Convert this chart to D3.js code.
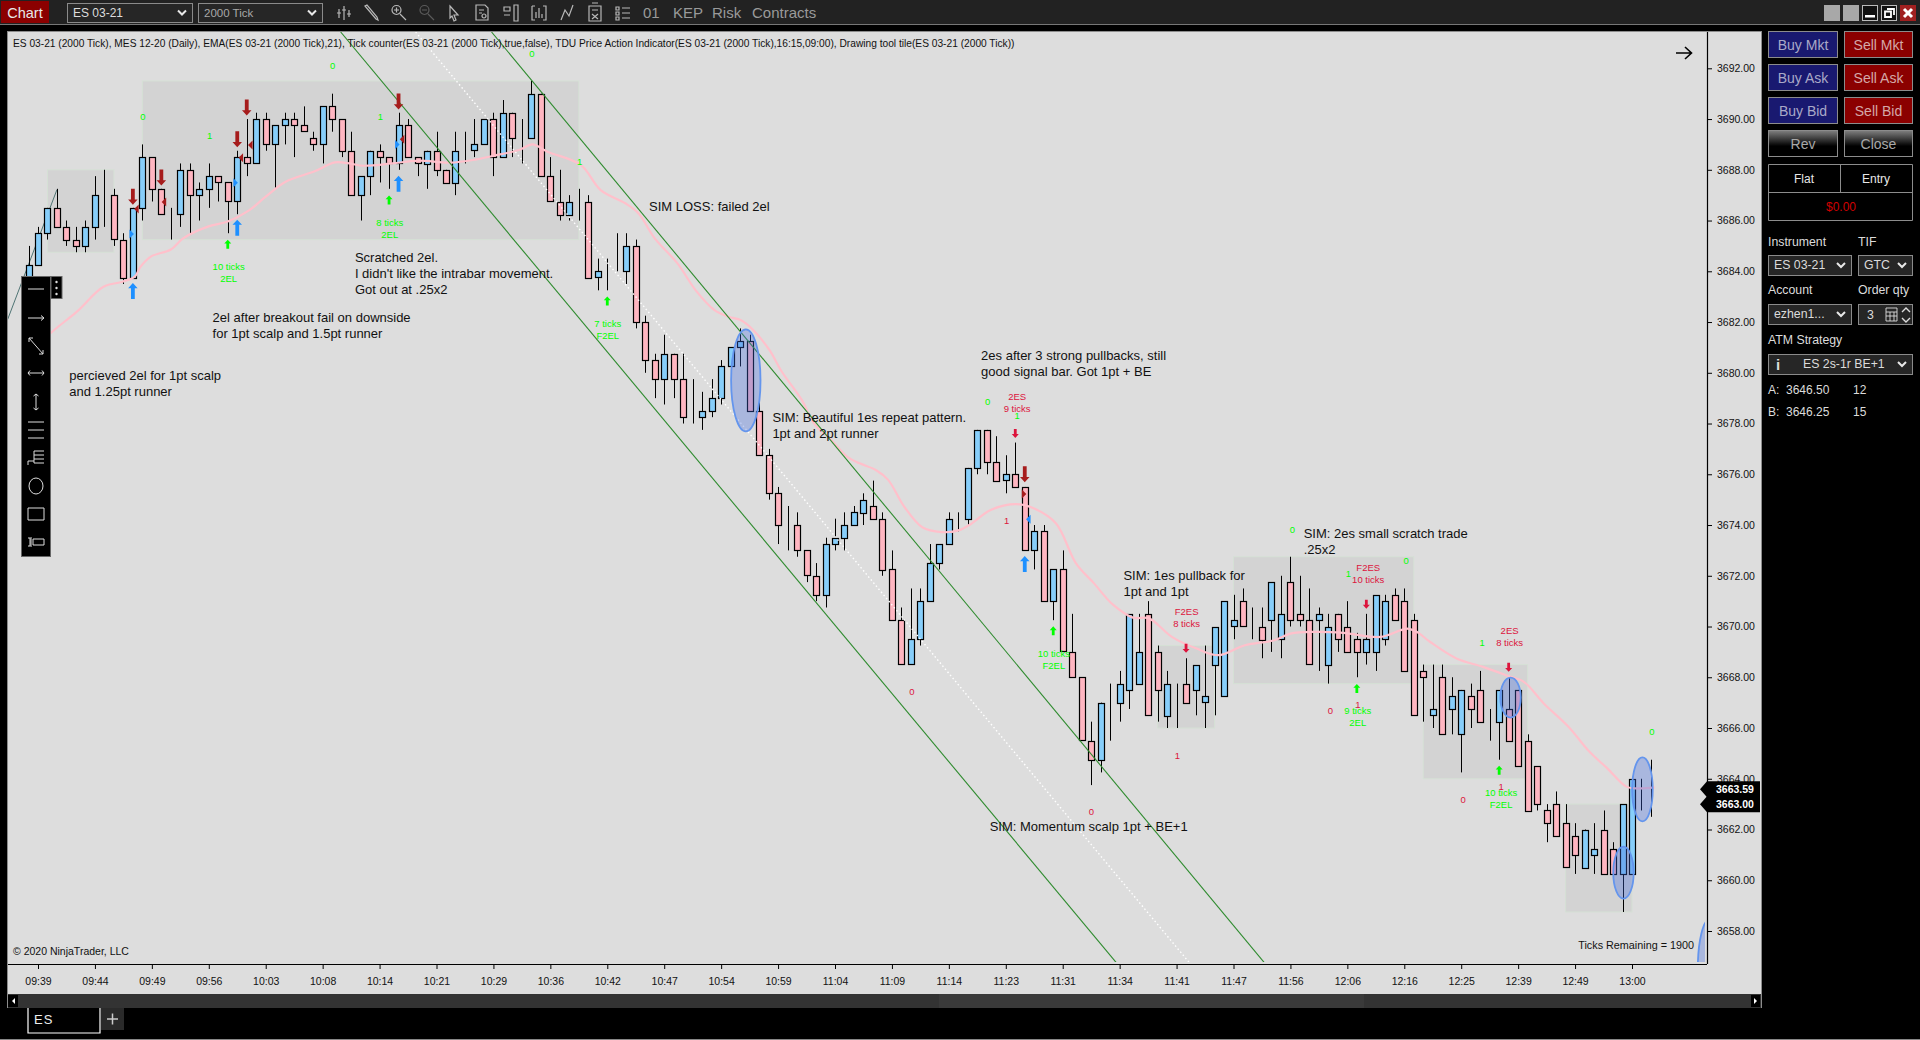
<!DOCTYPE html>
<html>
<head>
<meta charset="utf-8">
<script src="https://cdn.jsdelivr.net/npm/d3@7"></script>
<style>
  html, body { margin: 0; padding: 0; background: #000; overflow: hidden; }
  svg { display: block; }
  text { font-family: "Liberation Sans", Arial, sans-serif; }
</style>
</head>
<body>
<svg id="chart" width="1920" height="1040"></svg>
<script>
// ---------- DATA ----------

const timeLabels = ["09:39","09:44","09:49","09:56","10:03","10:08","10:14","10:21","10:29","10:36",
  "10:42","10:47","10:54","10:59","11:04","11:09","11:14","11:23","11:31","11:34",
  "11:41","11:47","11:56","12:06","12:16","12:25","12:39","12:49","13:00"];
const priceTicks = [3692,3690,3688,3686,3684,3682,3680,3678,3676,3674,3672,3670,3668,3666,3664,3662,3660,3658];

// bars start one bar before the 09:39 tick
const firstBar = -1;
const opens = [3683.75,3684.25,3685.5,3686.5,3685.75,3685.25,3685,3685.75,3687,3687,
  3685.25,3683.75,3686.5,3688.5,3687.25,3686.25,3686.25,3688,3687,3687.25,
  3687.75,3687.5,3686.75,3688.5,3688.25,3690,3689,3689.75,3690,3689.75,
  3689.25,3689,3690.5,3690,3688.75,3687,3687.75,3688.75,3688.5,3688.25,
  3689.75,3688.5,3688.25,3688.75,3688,3687.5,3688.75,3688.75,3689,3690,
  3688.5,3690.25,3689.25,3689.25,3691,3687.75,3686.75,3686.25,3686.75,3686.75,
  3683.75,3684,3684,3684,3685,3682,3680.5,3679.75,3680.75,3679.75,
  3678.25,3678.25,3678.5,3679,3680.25,3681,3681.25,3678.5,3676.75,3675.25,
  3674,3674,3673,3672,3671.25,3673.25,3673.5,3674,3674.5,3674.75,
  3674.25,3672.25,3670.25,3668.5,3669.5,3671,3672.5,3673.25,3674.25,3674.25,
  3676.25,3677.75,3676.5,3675.75,3676,3675.5,3673,3673.75,3671,3672.25,
  3669,3668,3665.5,3664.75,3667,3667,3667.5,3667.75,3670.5,3669,
  3666.5,3667.5,3667.75,3667.5,3667,3668.5,3667.25,3670,3671,3670.25,
  3670,3670.25,3669.5,3671.75,3670.5,3670.25,3670.25,3668.5,3670.5,3670,
  3669.5,3669,3669,3669.5,3671.25,3671,3670.25,3668.25,3666.5,3668,
  3666.75,3665.75,3667.25,3667.5,3666.75,3666.25,3666.75,3667.5,3665.5,3664.5,
  3662.75,3663,3662.25,3661.75,3660.5,3661,3662,3661.25,3660.25,3660.25,
  3663,3664];
const highs = [3685,3685.75,3686.5,3687.25,3686,3685.75,3686,3687.75,3688,3687.25,
  3685.5,3686.5,3689,3688.5,3687.25,3686.5,3688.25,3688.25,3687.5,3688.25,
  3687.75,3687.5,3688.75,3690,3690.25,3690.25,3689.75,3690.25,3690.25,3690.5,
  3689.5,3690.5,3691,3690,3689.5,3687.75,3688.75,3689,3688.5,3690.25,
  3690,3688.5,3688.75,3689.5,3688,3689.5,3689.5,3690,3690,3690.25,
  3690.75,3690.25,3690,3691.5,3691,3688.5,3688,3687,3687.25,3687,
  3684.5,3684.5,3685.5,3685.5,3685.25,3682.25,3680.75,3681.5,3680.75,3680.75,
  3679.75,3679.25,3679.75,3680.5,3681,3681.75,3681.5,3679,3677,3675.5,
  3674.75,3674.5,3673,3672.5,3673.5,3674.25,3674.5,3674.75,3675.25,3675.75,
  3674.5,3673,3670.75,3671.5,3671.5,3673.25,3673.25,3674.5,3674.5,3676.25,
  3677.75,3677.75,3677.5,3676.75,3677.25,3675.5,3674,3674,3672.25,3673,
  3670.5,3668,3666.25,3667,3667.75,3668.25,3668,3670.5,3671,3669.25,
  3668.25,3667.75,3668.75,3668.25,3669.25,3668.75,3670,3671.25,3671.5,3670.75,
  3670.75,3670.25,3672,3672.75,3672,3671.5,3670.75,3670.5,3670.5,3671,
  3669.75,3670.5,3670.5,3671.25,3671.5,3671.5,3670.5,3668.5,3668.5,3668.5,
  3668,3667.5,3667.75,3668.25,3666.75,3666.75,3668,3667.5,3665.75,3664.5,
  3663,3663.5,3663,3662.25,3662,3662.25,3662.75,3661.5,3660.25,3663,
  3664,3664.75];
const lows = [3683.5,3684.25,3685.25,3685.75,3685,3684.75,3684.75,3685.25,3685.75,3685,
  3683.5,3683.75,3686,3686.75,3686.25,3685.25,3685.75,3685.5,3686,3686.5,
  3686.75,3685.5,3686.25,3687.75,3688.25,3688.75,3687.25,3689,3688.5,3689.5,
  3688.75,3688.25,3689.5,3688.5,3687,3686,3687,3687.5,3687.25,3688,
  3688.5,3687.75,3687.25,3687.75,3687.5,3687,3688.25,3688.5,3689,3687.75,
  3688.5,3688.5,3688.25,3689.25,3687.75,3686.75,3686,3686,3686,3683.75,
  3683.25,3683.25,3684,3683.5,3681.75,3680,3679,3678.75,3679,3678,
  3678,3677.75,3678.25,3678.75,3680.25,3680.25,3678.5,3676.75,3675,3673.25,
  3673,3672.75,3671.75,3671,3670.75,3673,3673,3674,3674,3674.25,
  3672,3670.25,3668.5,3668.5,3669.25,3671,3672.25,3673.25,3673.75,3674,
  3676,3676,3675.75,3675.25,3675.5,3673,3672.25,3671,3670.25,3669,
  3668,3665.5,3663.75,3664.25,3665.5,3666.25,3666.75,3667.75,3669,3666.25,
  3666,3666,3667.25,3666.5,3666,3666.5,3667.25,3669.5,3670,3669.5,
  3668.75,3669,3668.75,3670,3670,3669.25,3668.25,3667.75,3669,3669,
  3668,3668.5,3668.25,3669.25,3670.5,3669.5,3668.25,3666.25,3666,3666.75,
  3665.75,3664.25,3666,3666.75,3665.5,3664.75,3666.5,3665,3664,3662.75,
  3661.5,3662.25,3661.5,3660.25,3660.5,3660.25,3661,3660.25,3658.75,3660.25,
  3662.75,3662.5];
const closes = [3684.25,3685.5,3686.5,3685.75,3685.25,3685,3685.75,3687,3687,3685.25,
  3683.75,3686.5,3688.5,3687.25,3686.25,3686.25,3688,3687,3687.25,3687.75,
  3687.5,3686.75,3688.5,3688.25,3690,3689,3689.75,3690,3689.75,3689.5,
  3689,3690.5,3690,3688.75,3687,3687.75,3688.75,3688.5,3688.25,3689.75,
  3688.5,3688.25,3688.75,3688,3687.5,3688.75,3688.75,3689,3690,3688.5,
  3690.25,3689.25,3689.25,3691,3687.75,3686.75,3686.25,3686.75,3686.75,3683.75,
  3684,3684,3684,3685,3682,3680.5,3679.75,3680.75,3679.75,3678.25,
  3678.25,3678.5,3679,3680.25,3681,3681.25,3678.5,3676.75,3675.25,3674,
  3674,3673,3672,3671.25,3673.25,3673.5,3674,3674.5,3675,3674.25,
  3672.25,3670.25,3668.5,3669.5,3671,3672.5,3673.25,3674.25,3674.25,3676.25,
  3677.75,3676.5,3675.75,3676,3675.5,3673,3673.75,3671,3672.25,3669,
  3668,3665.5,3664.75,3667,3667,3667.75,3670.5,3669,3666.5,3667.5,
  3667.75,3667.5,3667,3668.5,3667.25,3670,3671,3670.25,3670,3670.25,
  3669.5,3671.75,3670.5,3670.25,3670.25,3668.5,3670.5,3670,3669.5,3669,
  3669,3669.5,3671.25,3671,3670.25,3668.25,3666.5,3668,3666.75,3665.75,
  3667.25,3667.5,3666.75,3666.25,3666.75,3667.5,3665.5,3664.5,3662.75,3663,
  3662.25,3661.75,3660.5,3661,3662,3661.25,3660.25,3660.25,3663,3664,
  3663];

// EMA(21)
const emaBars = [0,1.3,4.1,6.9,8.9,10.2,10.8,11.9,14,15.3,17.9,20,22.2,24,26.1,29.1,31.3,32.8,34.3,37.3,
  40.1,43.4,46.2,48.1,50.7,52.1,53.7,57.2,59.3,61.9,63.3,65,67.4,69.3,71.3,72.8,74.1,75.4,77.1,78.4,
  80.5,81.8,83.6,85.3,86.6,88.3,89.6,91.3,93.2,95.2,97.1,98.4,100.4,103.1,105,107.3,109.4,111.3,113.3,115.4,
  117.1,119.5,122.1,124.4,127.2,130.3,132,134.6,137.6,141.5,144.3,145.3,146.7,149.5,152.3,154.9,156.6,158.7,161.3,163.5,
  165.4,167.4,168.6,170.4];
const emaValues = [3681,3681.55,3682.41,3683.39,3683.59,3683.79,3684.18,3684.58,3684.86,3685.3,3685.76,3685.96,3686.39,3686.94,3687.53,3687.93,3688.29,3688.25,3688.16,3688.25,
  3688.36,3688.28,3688.41,3688.56,3688.78,3689,3688.71,3688.19,3687.2,3686.68,3686.28,3685.3,3684.31,3683.26,3682.47,3682.21,3682.07,3681.68,3680.89,3680.04,
  3678.93,3678,3677.35,3676.69,3676.43,3676.17,3675.78,3674.72,3673.91,3673.72,3673.8,3674.06,3674.59,3674.82,3674.65,3674.06,3672.49,3671.7,3670.86,3670.35,
  3670.32,3669.59,3669.13,3668.87,3669.26,3669.46,3669.72,3669.79,3669.75,3669.59,3669.92,3669.79,3669.4,3668.74,3668.41,3668.06,3667.82,3666.97,3666.05,3665.07,
  3664.41,3663.69,3663.62,3663.66];

// shaded range boxes: first bar, last bar, top price, bottom price
const boxStart = [1,11,118,126,146,161];
const boxEnd = [8,57,124,145,157,168];
const boxTop = [3688,3691.5,3669.25,3672.75,3668.5,3663];
const boxBottom = [3684.75,3685.25,3666,3667.75,3664,3658.75];

// channel lines (bar and price of both ends)
const channelStart = [31.9,47.8];
const channelEnd = [113.7,129.3];
const channelMidStart = 39.8;
const channelMidEnd = 121.4;
const channelTopPrice = 3693.43;
const channelBottomPrice = 3656.73;
const trendBars = [-3.2,2];
const trendPrices = [3682.1,3687.22];

// drawn ellipses
const ellipseBars = [74.6,155.2,167.1,169.1,176.2];
const ellipsePrices = [3679.7,3667.2,3660.3,3663.58,3656.5];

// signal markers
const bigDownBars = [10,13,21,22,38,104];
const bigDownPrices = [3686.94,3687.7,3689.2,3690.46,3690.69,3676];
const bigUpBars = [10,21,38,104];
const bigUpPrices = [3683.22,3685.72,3687.45,3672.46];
const smallUpBars = [20,37,60,107,139,154];
const smallUpPrices = [3685.07,3686.81,3682.83,3669.83,3667.56,3664.34];
const smallDownBars = [103,121,140,155];
const smallDownPrices = [3677.61,3669.14,3670.88,3668.39];
const redLeftBars = [10.4,13.3,21.4,22.4,38.4];
const redLeftPrices = [3686.45,3686.73,3688.47,3688.98,3689.2];
const redRightBars = [103.9];
const redRightPrices = [3675.22];
const blueRightBars = [9.85,20.8,37.85];
const blueRightPrices = [3685.47,3687.49,3689];
const blueLeftBars = [104.4];
const blueLeftPrices = [3674.23];

// tick counter labels
const greenLabels = ["0","1","0","1","0","1","10 ticks|2EL","8 ticks|2EL","7 ticks|F2EL","10 ticks|F2EL","9 ticks|2EL","10 ticks|F2EL","0","1","0","1","0","1","0"];
const greenBars = [11.05,18.1,31.06,36.1,52.05,57.1,20.1,37.07,60.05,107.07,139.1,154.2,100.1,103.2,132.2,138.1,144.2,152.2,170.1];
const greenPrices = [3690.11,3689.35,3692.1,3690.1,3692.6,3688.32,3684.18,3685.92,3681.95,3668.93,3666.68,3663.45,3678.86,3678.33,3673.84,3672.07,3672.59,3669.36,3665.86];
const redLabels = ["2ES|9 ticks","1","0","0","F2ES|8 ticks","1","F2ES|10 ticks","0","1","2ES|8 ticks","1","0"];
const redBars = [103.2,102.1,92.1,111.03,121.06,120.1,140.2,136.2,139.1,155.1,154.2,150.2];
const redPrices = [3679.06,3674.17,3667.43,3662.7,3670.58,3664.93,3672.31,3666.68,3666.93,3669.83,3663.68,3663.17];

// notes typed on the chart
const notes = ["SIM LOSS: failed 2el","2el after breakout fail on downside|for 1pt scalp and 1.5pt runner",
  "percieved 2el for 1pt scalp|and 1.25pt runner","Scratched 2el.|I didn't like the intrabar movement.|Got out at .25x2",
  "SIM: Beautiful 1es repeat pattern.|1pt and 2pt runner","2es after 3 strong pullbacks, still|good signal bar. Got 1pt + BE",
  "SIM: Momentum scalp 1pt + BE+1","SIM: 1es pullback for|1pt and 1pt","SIM: 2es small scratch trade|.25x2"];
const noteBars = [64.4,18.4,3.3,33.4,77.4,99.4,100.3,114.4,133.4];
const notePrices = [3686.57,3682.16,3679.91,3684.56,3678.22,3680.7,3662.13,3672.03,3673.68];

const headerText = "ES 03-21 (2000 Tick), MES 12-20 (Daily), EMA(ES 03-21 (2000 Tick),21), Tick counter(ES 03-21 (2000 Tick),true,false), TDU Price Action Indicator(ES 03-21 (2000 Tick),16:15,09:00), Drawing tool tile(ES 03-21 (2000 Tick))";
const lastPrices = [3663.59,3663];

// ---------- SCALES ----------

const plot = { left: 8, right: 1707, top: 32, bottom: 964 };
const x = d3.scaleLinear().domain([0, 168]).range([38, 1632]);
const y = d3.scaleLinear().domain([3692, 3658]).range([68.3, 931]);

const svg = d3.select("#chart");
const bars = opens.map((o, i) => ({ bar: firstBar + i, o, h: highs[i], l: lows[i], c: closes[i] }));
const zip = (xs, ys) => xs.map((b, i) => ({ x: x(b), y: y(ys[i]) }));

// ---------- WINDOW FRAME ----------

svg.append("rect").attr("width", 1920).attr("height", 1040).attr("fill", "#000");
svg.append("rect").attr("width", 1920).attr("height", 24).attr("fill", "#222");
svg.append("rect").attr("y", 24).attr("width", 1920).attr("height", 1).attr("fill", "#777");
svg.append("rect").attr("x", 1).attr("y", 1).attr("width", 48).attr("height", 22).attr("fill", "#8b0000");
svg.append("text").attr("x", 25).attr("y", 18).attr("text-anchor", "middle").attr("font-size", 14.5).attr("fill", "#e8e8e8").text("Chart");

function combo(g, x0, y0, w, h, label, color, size, textX) {
  g.append("rect").attr("x", x0 + .5).attr("y", y0 + .5).attr("width", w).attr("height", h)
    .attr("fill", "#262626").attr("stroke", "#8a8a8a");
  g.append("text").attr("x", textX === undefined ? x0 + 6 : textX).attr("y", y0 + h / 2 + size * .36)
    .attr("font-size", size).attr("fill", color).text(label);
  const cx = x0 + w - 10, cy = y0 + h / 2;
  g.append("path").attr("d", `M${cx - 4},${cy - 2}L${cx},${cy + 2}L${cx + 4},${cy - 2}`)
    .attr("fill", "none").attr("stroke", "#e8e8e8").attr("stroke-width", 2);
}
const topBar = svg.append("g");
combo(topBar, 67, 3, 125, 19, "ES 03-21", "#dcdcdc", 12);
combo(topBar, 198, 3, 124, 19, "2000 Tick", "#a8a8a8", 11.5);

// toolbar icons
const iconStroke = "#b8b8b8";
const icons = [
  "M-5,-4V5M0,-7V7M5,-3V4M-7,0H-3M-2,-3H2M3,1H7",
  "M-6,-7L5,6L7,7L6,4L-4,-8Z",
  "M-7,-3a4.5,4.5 0 1,0 9,0a4.5,4.5 0 1,0 -9,0M-5,-3H0M-2.5,-5.5V-.5M1,1L7,7",
  "M-7,-3a4.5,4.5 0 1,0 9,0a4.5,4.5 0 1,0 -9,0M-5,-3H0M1,1L7,7",
  "M-4,-7L4,2L0,2L2,7L0,8L-2,3L-4,5Z",
  "M-6,-8H3L6,-5V7H-6ZM-3,-3H2M-3,0H0M0,3a2,2 0 1,0 4,0a2,2 0 1,0 -4,0",
  "M-7,-6H-1V-2H-7ZM-7,2H-1M3,-8H7V8H3Z",
  "M-7,-7H-4M-7,-7V7H-4M4,-7H7V7H4M-3,5V-1M0,5V-5M3,5V1",
  "M-6,7L-2,-3L2,3L6,-8",
  "M-6,-7H6V8H-6ZM-3,-10H3M-3,-3H3M-3,1L3,6M3,1L-3,6",
  "M-7,-6H-4V-3H-7ZM-7,-1H-4V2H-7ZM-7,4H-4V7H-7ZM-1,-5H7M-1,0H7M-1,5H7"
];
const iconX = [344, 371, 399, 427, 454, 482, 511, 539, 567, 595, 623];
topBar.selectAll(".icon").data(icons).join("path").attr("class", "icon")
  .attr("transform", (d, i) => `translate(${iconX[i]},13)`)
  .attr("d", d => d).attr("fill", "none")
  .attr("stroke", (d, i) => i === 3 ? "#5a5a5a" : iconStroke).attr("stroke-width", 1.2);
[["01", 643], ["KEP", 673], ["Risk", 712], ["Contracts", 752]].forEach(t => {
  topBar.append("text").attr("x", t[1]).attr("y", 18).attr("font-size", 15).attr("fill", "#9a9a9a").text(t[0]);
});

// window buttons
[1824, 1843].forEach(bx => topBar.append("rect").attr("x", bx).attr("y", 5).attr("width", 16).attr("height", 16).attr("fill", "#a8a8a8"));
[1862, 1881].forEach(bx => topBar.append("rect").attr("x", bx + .5).attr("y", 5.5).attr("width", 15).attr("height", 15).attr("fill", "#111").attr("stroke", "#bbb"));
topBar.append("rect").attr("x", 1865).attr("y", 15).attr("width", 10).attr("height", 2.5).attr("fill", "#fff");
topBar.append("path").attr("d", "M1887,9H1894V15M1885,11.5H1891V17H1885Z").attr("fill", "none").attr("stroke", "#fff").attr("stroke-width", 1.8);
topBar.append("rect").attr("x", 1900).attr("y", 5).attr("width", 16).attr("height", 16).attr("fill", "#a02020");
topBar.append("path").attr("d", "M1904,9L1912,17M1912,9L1904,17").attr("stroke", "#fff").attr("stroke-width", 3);

// ---------- CHART PANEL ----------

svg.append("rect").attr("x", plot.left - 1).attr("y", plot.top - 1).attr("width", 1755).attr("height", 977)
  .attr("fill", "#8c8c8c");
svg.append("rect").attr("x", plot.left).attr("y", plot.top).attr("width", 1753).attr("height", 962)
  .attr("fill", "#dddddd");

const defs = svg.append("defs");
defs.append("clipPath").attr("id", "plotClip").append("rect")
  .attr("x", plot.left).attr("y", plot.top).attr("width", 1697).attr("height", 930);

const chart = svg.append("g").attr("clip-path", "url(#plotClip)");

// range boxes
chart.selectAll(".box").data(boxStart).join("rect").attr("class", "box")
  .attr("x", d => x(d))
  .attr("y", (d, i) => y(boxTop[i]))
  .attr("width", (d, i) => x(boxEnd[i]) - x(d))
  .attr("height", (d, i) => y(boxBottom[i]) - y(boxTop[i]))
  .attr("fill", "#d3d3d3").attr("stroke", "#d5e0d5").attr("stroke-width", 1);

// faint trend line on the left, goes under the drawing toolbar
chart.append("path").datum(zip(trendBars, trendPrices))
  .attr("d", d3.line().x(d => d.x).y(d => d.y)).attr("stroke", "#4f7474").attr("fill", "none");

// candles
const candle = chart.selectAll(".candle").data(bars).join("g").attr("class", "candle");
candle.append("line")
  .attr("x1", d => Math.round(x(d.bar)) + .5).attr("x2", d => Math.round(x(d.bar)) + .5)
  .attr("y1", d => y(d.h)).attr("y2", d => y(d.l))
  .attr("stroke", "#000").attr("stroke-width", 1);
candle.append("rect")
  .attr("x", d => Math.round(x(d.bar)) - 2.5)
  .attr("y", d => Math.round(y(Math.max(d.o, d.c))) + .5)
  .attr("width", 6)
  .attr("height", d => Math.max(0, Math.round(y(Math.min(d.o, d.c)) - y(Math.max(d.o, d.c)))))
  .attr("fill", d => d.c >= d.o ? "#87cefa" : "#ffb6c1")
  .attr("stroke", "#000").attr("stroke-width", 1.2);

// EMA
chart.append("path").datum(zip(emaBars, emaValues))
  .attr("d", d3.line().x(d => d.x).y(d => d.y).curve(d3.curveCatmullRom.alpha(.5)))
  .attr("fill", "none").attr("stroke", "#ffc0cb").attr("stroke-width", 2.2);

// channel
channelStart.forEach((b, i) => {
  chart.append("line")
    .attr("x1", x(b)).attr("y1", y(channelTopPrice))
    .attr("x2", x(channelEnd[i])).attr("y2", y(channelBottomPrice))
    .attr("stroke", "#2e8b2e").attr("stroke-width", 1.1);
});
chart.append("line")
  .attr("x1", x(channelMidStart)).attr("y1", y(channelTopPrice))
  .attr("x2", x(channelMidEnd)).attr("y2", y(channelBottomPrice))
  .attr("stroke", "#fff").attr("stroke-width", 1.4).attr("stroke-dasharray", "1.5,2.5");

// ellipses
const ellipseRx = [14.7, 10.2, 10.2, 10.3, 12];
const ellipseRy = [51, 20, 26, 32, 50];
chart.selectAll(".oval").data(ellipseBars).join("ellipse").attr("class", "oval")
  .attr("cx", d => x(d))
  .attr("cy", (d, i) => y(ellipsePrices[i]))
  .attr("rx", (d, i) => ellipseRx[i])
  .attr("ry", (d, i) => ellipseRy[i])
  .attr("fill", "#4169e1").attr("fill-opacity", .33)
  .attr("stroke", "#6495ed").attr("stroke-width", 1.8);

// arrows
const upArrow = (w, h) => `M0,${-h / 2}L${w / 2},${-h / 2 + w * .55}H${w * .2}V${h / 2}H${-w * .2}V${-h / 2 + w * .55}H${-w / 2}Z`;
const downArrow = (w, h) => `M0,${h / 2}L${w / 2},${h / 2 - w * .55}H${w * .2}V${-h / 2}H${-w * .2}V${h / 2 - w * .55}H${-w / 2}Z`;
function markers(pts, d, color) {
  chart.append("g").selectAll("path").data(pts).join("path")
    .attr("transform", p => `translate(${p.x},${p.y})`)
    .attr("d", d).attr("fill", color);
}
markers(zip(bigDownBars, bigDownPrices), downArrow(9.5, 16), "#a61c1c");
markers(zip(bigUpBars, bigUpPrices), upArrow(9.5, 16), "#1e90ff");
markers(zip(smallUpBars, smallUpPrices), upArrow(7, 9), "#00ff00");
markers(zip(smallDownBars, smallDownPrices), downArrow(7, 9), "#dc143c");
markers(zip(redLeftBars, redLeftPrices), "M-2.5,0L2,-4.5V4.5Z", "#a61c1c");
markers(zip(redRightBars, redRightPrices), "M2.5,0L-2,-4.5V4.5Z", "#a61c1c");
markers(zip(blueRightBars, blueRightPrices), "M2.5,0L-2,-4.5V4.5Z", "#1e90ff");
markers(zip(blueLeftBars, blueLeftPrices), "M-2.5,0L2,-4.5V4.5Z", "#1e90ff");

// tick counter labels
function tickLabels(labels, xs, ys, color) {
  labels.forEach((label, i) => {
    label.split("|").forEach((part, k) => {
      chart.append("text")
        .attr("x", x(xs[i])).attr("y", y(ys[i]) + k * 12 + 3.5)
        .attr("text-anchor", "middle").attr("font-size", 9.5).attr("fill", color).text(part);
    });
  });
}
tickLabels(greenLabels, greenBars, greenPrices, "#00ff00");
tickLabels(redLabels, redBars, redPrices, "#dc143c");

// notes
notes.forEach((note, i) => {
  note.split("|").forEach((part, k) => {
    chart.append("text")
      .attr("x", x(noteBars[i])).attr("y", y(notePrices[i]) + k * 16 + 4.5)
      .attr("font-size", 13).attr("fill", "#111").text(part);
  });
});

// plain texts in the panel
chart.append("text").attr("x", 13).attr("y", 47).attr("font-size", 10.2).attr("fill", "#111").text(headerText);
chart.append("text").attr("x", 13).attr("y", 955).attr("font-size", 10.5).attr("fill", "#111").text("© 2020 NinjaTrader, LLC");
chart.append("text").attr("x", 1694).attr("y", 949).attr("text-anchor", "end").attr("font-size", 10.8).attr("fill", "#111").text("Ticks Remaining = 1900");
chart.append("path").attr("d", "M1676,53H1691M1685,47L1691.5,53L1685,59").attr("fill", "none").attr("stroke", "#000").attr("stroke-width", 1.6);

// ---------- AXES ----------

const xAxis = d3.axisBottom(x)
  .tickValues(timeLabels.map((_, i) => i * 6))
  .tickFormat((_, i) => timeLabels[i]).tickSize(5).tickSizeOuter(0);
const xAxisG = svg.append("g").attr("transform", `translate(0,${plot.bottom})`).call(xAxis);
xAxisG.select(".domain").attr("d", `M${plot.left},.5H${plot.right}`).attr("stroke", "#000").attr("stroke-width", 1.2);
xAxisG.selectAll("text").attr("font-size", 10.5).attr("font-family", "Liberation Sans").attr("fill", "#111").attr("y", 14);

const yAxis = d3.axisRight(y).tickValues(priceTicks).tickFormat(d3.format(".2f")).tickSize(5).tickSizeOuter(0);
const yAxisG = svg.append("g").attr("transform", `translate(${plot.right},0)`).call(yAxis);
yAxisG.select(".domain").attr("d", `M.5,${plot.top}V${plot.bottom}`).attr("stroke", "#000").attr("stroke-width", 1.2);
yAxisG.selectAll("text").attr("font-size", 10.5).attr("font-family", "Liberation Sans").attr("fill", "#111").attr("x", 10);

// last price tags
lastPrices.forEach(p => {
  const cy = y(p);
  svg.append("path").attr("d", `M1700,${cy}L1707,${cy - 8}H1760V${cy + 8}H1707Z`).attr("fill", "#000");
  svg.append("text").attr("x", 1716).attr("y", cy + 3.8).attr("font-size", 10.5).attr("font-weight", "bold").attr("fill", "#fff").text(p.toFixed(2));
});

// scrollbar + tab strip
svg.append("rect").attr("x", plot.left).attr("y", 994).attr("width", 1753).attr("height", 14).attr("fill", "#333");
svg.append("rect").attr("x", 939).attr("y", 994).attr("width", 425).attr("height", 14).attr("fill", "#3a3a3a");
svg.append("rect").attr("x", plot.left).attr("y", 995).attr("width", 10).attr("height", 12).attr("fill", "#000");
svg.append("rect").attr("x", 1751).attr("y", 995).attr("width", 9).attr("height", 12).attr("fill", "#000");
svg.append("path").attr("d", "M15,998V1004L12,1001Z").attr("fill", "#fff");
svg.append("path").attr("d", "M1754,998V1004L1757,1001Z").attr("fill", "#fff");
svg.append("path").attr("d", "M28,1008V1033H100V1008").attr("fill", "none").attr("stroke", "#fff").attr("stroke-width", 1.2);
svg.append("text").attr("x", 34).attr("y", 1024).attr("font-size", 13).attr("letter-spacing", 1).attr("fill", "#eee").text("ES");
svg.append("rect").attr("x", 101).attr("y", 1008).attr("width", 23).attr("height", 22).attr("fill", "#2a2a2a");
svg.append("path").attr("d", "M107,1019H118M112.5,1013.5V1024.5").attr("stroke", "#ccc").attr("stroke-width", 1.5);
svg.append("rect").attr("y", 1039).attr("width", 1920).attr("height", 1).attr("fill", "#888");

// ---------- DRAWING TOOLBAR ----------

const tools = svg.append("g");
tools.append("rect").attr("x", 21.5).attr("y", 276.5).attr("width", 29).attr("height", 280).attr("fill", "#000").attr("stroke", "#666");
tools.append("rect").attr("x", 51).attr("y", 276.5).attr("width", 11).attr("height", 22).attr("fill", "#000").attr("stroke", "#666");
[282, 288, 294].forEach(cy => tools.append("circle").attr("cx", 56.5).attr("cy", cy).attr("r", 1.2).attr("fill", "#ddd"));
const toolIcons = [
  "M-8,0H8",
  "M-8,0H8M5,-2.5L8,0L5,2.5",
  "M-7,-8L7,8M-7,-4V-8H-3M3,8H7V4",
  "M-8,0H8M-6,-2.5L-8,0L-6,2.5M6,-2.5L8,0L6,2.5",
  "M0,-8V8M-2.5,-6L0,-8L2.5,-6M-2.5,6L0,8L2.5,6",
  "M-8,-8H8M-8,0H8M-8,8H8",
  "M-2,-6H8M-2,-2H8M-2,2H8M-2,6H8M-2,-6V6M-8,8V4H-2",
  "M-7,0a7,8 0 1,0 14,0a7,8 0 1,0 -14,0",
  "M-8,-6H8V6H-8Z",
  "M-3,-3H8V3H-3ZM-8,-4H-6V4H-8M-5,-5V5"
];
const toolY = [289, 318, 346, 373, 402, 430, 457, 486, 514, 542];
tools.selectAll(".tool").data(toolIcons).join("path").attr("class", "tool")
  .attr("transform", (d, i) => `translate(36,${toolY[i]})`)
  .attr("d", d => d).attr("fill", "none").attr("stroke", "#ddd").attr("stroke-width", 1);

// ---------- ORDER PANEL ----------

const panel = svg.append("g");
function button(x0, y0, w, h, fill, color, label) {
  panel.append("rect").attr("x", x0 + .5).attr("y", y0 + .5).attr("width", w).attr("height", h)
    .attr("fill", fill).attr("stroke", "#8c8c8c");
  panel.append("text").attr("x", x0 + w / 2 + .5).attr("y", y0 + h / 2 + 5.5).attr("text-anchor", "middle")
    .attr("font-size", 14).attr("fill", color).text(label);
}
const fade = defs.append("linearGradient").attr("id", "fade").attr("x1", 0).attr("y1", 0).attr("x2", 0).attr("y2", 1);
fade.append("stop").attr("offset", 0).attr("stop-color", "#808080");
fade.append("stop").attr("offset", .6).attr("stop-color", "#000");

[["Buy Mkt", "Sell Mkt", 31], ["Buy Ask", "Sell Ask", 64], ["Buy Bid", "Sell Bid", 97]].forEach(r => {
  button(1768, r[2], 69, 26, "#191970", "#a9a9c8", r[0]);
  button(1844, r[2], 68, 26, "#8b0000", "#d4a8a8", r[1]);
});
button(1768, 130, 69, 26, "url(#fade)", "#a8a8a8", "Rev");
button(1844, 130, 68, 26, "url(#fade)", "#a8a8a8", "Close");

panel.append("path").attr("d", "M1768.5,164.5H1912.5V220.5H1768.5ZM1768.5,192.5H1912.5M1840.5,164.5V192.5")
  .attr("fill", "none").attr("stroke", "#8c8c8c");
panel.append("text").attr("x", 1804).attr("y", 183).attr("text-anchor", "middle").attr("font-size", 12).attr("fill", "#e8e8e8").text("Flat");
panel.append("text").attr("x", 1876).attr("y", 183).attr("text-anchor", "middle").attr("font-size", 12).attr("fill", "#e8e8e8").text("Entry");
panel.append("text").attr("x", 1841).attr("y", 211).attr("text-anchor", "middle").attr("font-size", 12).attr("fill", "#d00000").text("$0.00");

[["Instrument", 1768, 246], ["TIF", 1858, 246], ["Account", 1768, 294], ["Order qty", 1858, 294], ["ATM Strategy", 1768, 344]].forEach(t => {
  panel.append("text").attr("x", t[1]).attr("y", t[2]).attr("font-size", 12.3).attr("fill", "#dcdcdc").text(t[0]);
});
combo(panel, 1768, 255, 83, 20, "ES 03-21", "#dcdcdc", 12.3);
combo(panel, 1858, 255, 54, 20, "GTC", "#dcdcdc", 12.3);
combo(panel, 1768, 304, 83, 20, "ezhen1...", "#dcdcdc", 12.3);
panel.append("rect").attr("x", 1858.5).attr("y", 304.5).attr("width", 54).attr("height", 20).attr("fill", "#262626").attr("stroke", "#8a8a8a");
panel.append("text").attr("x", 1867).attr("y", 319).attr("font-size", 12.3).attr("fill", "#dcdcdc").text("3");
panel.append("path").attr("d", "M1886,308H1897V321H1886ZM1886,312H1897M1886,316H1897M1890,312V321M1894,312V321").attr("fill", "none").attr("stroke", "#ddd").attr("stroke-width", .9);
panel.append("path").attr("d", "M1902,312L1906,308L1910,312M1902,318L1906,322L1910,318").attr("fill", "none").attr("stroke", "#ddd").attr("stroke-width", 1.4);
combo(panel, 1768, 354, 144, 20, "ES 2s-1r BE+1", "#dcdcdc", 12.3, 1803);
panel.append("text").attr("x", 1776).attr("y", 370).attr("font-size", 15).attr("font-family", "Liberation Serif").attr("font-weight", "bold").attr("fill", "#dcdcdc").text("i");

[["A:", "3646.50", "12", 394], ["B:", "3646.25", "15", 416]].forEach(r => {
  panel.append("text").attr("x", 1768).attr("y", r[3]).attr("font-size", 12).attr("fill", "#dcdcdc").text(r[0]);
  panel.append("text").attr("x", 1786).attr("y", r[3]).attr("font-size", 12).attr("fill", "#dcdcdc").text(r[1]);
  panel.append("text").attr("x", 1853).attr("y", r[3]).attr("font-size", 12).attr("fill", "#dcdcdc").text(r[2]);
});
</script>
</body>
</html>
